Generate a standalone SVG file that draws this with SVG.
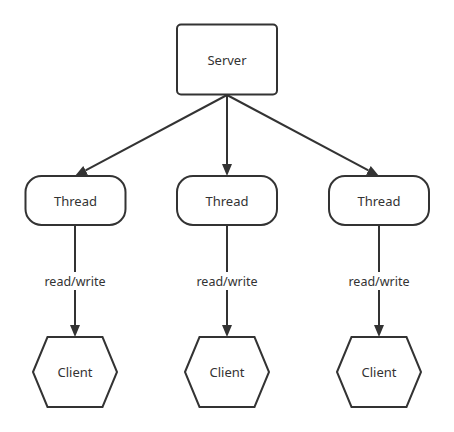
<svg xmlns="http://www.w3.org/2000/svg" width="454" height="432" viewBox="0 0 454 432">
  <style>
    .node { fill: #ffffff; stroke: #333333; stroke-width: 2; }
    .edge { fill: none; stroke: #333333; stroke-width: 2; }
    .txt { font-family: "Noto Sans", "Liberation Sans", sans-serif; font-size: 13px; fill: #333333; text-anchor: middle; dominant-baseline: central; }
    .lbl { font-family: "Noto Sans", "Liberation Sans", sans-serif; font-size: 12.5px; fill: #333333; text-anchor: middle; dominant-baseline: central; }
    .lblbg { fill: #ffffff; stroke: none; }
  </style>
  <defs>
    <marker id="arrow" markerUnits="userSpaceOnUse" markerWidth="12" markerHeight="10" refX="0" refY="5" orient="auto" viewBox="0 0 12 10">
      <path d="M0,0 L12,5 L0,10 z" fill="#333333"/>
    </marker>
  </defs>
  <rect width="454" height="432" fill="#ffffff"/>

  <g id="connectors">
    <line class="edge" x1="227" y1="95" x2="85.6" y2="170.4" marker-end="url(#arrow)"/>
    <line class="edge" x1="227" y1="95" x2="227" y2="164" marker-end="url(#arrow)"/>
    <line class="edge" x1="227" y1="95" x2="368.4" y2="170.4" marker-end="url(#arrow)"/>
    <line class="edge" x1="75" y1="225" x2="75" y2="325" marker-end="url(#arrow)"/>
    <line class="edge" x1="227" y1="225" x2="227" y2="325" marker-end="url(#arrow)"/>
    <line class="edge" x1="379" y1="225" x2="379" y2="325" marker-end="url(#arrow)"/>
    <rect class="lblbg" x="42" y="272" width="66" height="18"/>
    <text class="lbl" x="75" y="281">read/write</text>
    <rect class="lblbg" x="194" y="272" width="66" height="18"/>
    <text class="lbl" x="227" y="281">read/write</text>
    <rect class="lblbg" x="346" y="272" width="66" height="18"/>
    <text class="lbl" x="379" y="281">read/write</text>
  </g>

  <g id="server">
    <rect class="node" x="177" y="24.5" width="100" height="70" rx="4" ry="4"/>
    <text class="txt" x="227" y="60">Server</text>
  </g>

  <g id="thread1">
    <rect class="node" x="25.5" y="176" width="100" height="49" rx="16" ry="16"/>
    <text class="txt" x="75.5" y="201">Thread</text>
  </g>
  <g id="thread2">
    <rect class="node" x="177" y="176" width="100" height="49" rx="16" ry="16"/>
    <text class="txt" x="227" y="201">Thread</text>
  </g>
  <g id="thread3">
    <rect class="node" x="329" y="176" width="100" height="49" rx="16" ry="16"/>
    <text class="txt" x="379" y="201">Thread</text>
  </g>

  <g id="client1">
    <polygon class="node" points="33,372 47.5,337 102.5,337 117,372 102.5,407 47.5,407"/>
    <text class="txt" x="75" y="372">Client</text>
  </g>
  <g id="client2">
    <polygon class="node" points="185,372 199.5,337 254.5,337 269,372 254.5,407 199.5,407"/>
    <text class="txt" x="227" y="372">Client</text>
  </g>
  <g id="client3">
    <polygon class="node" points="337,372 351.5,337 406.5,337 421,372 406.5,407 351.5,407"/>
    <text class="txt" x="379" y="372">Client</text>
  </g>
</svg>
